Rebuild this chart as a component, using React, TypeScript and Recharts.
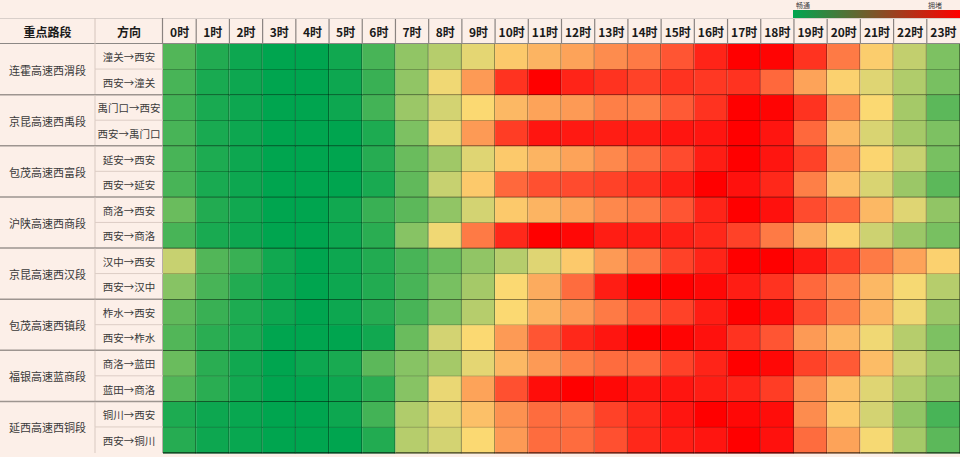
import React from 'react';
import { BarChart, Bar, XAxis, YAxis } from 'recharts';

// ---------- categories & labels ----------
const ROADS = [
  '连霍高速西渭段',
  '京昆高速西禹段',
  '包茂高速西富段',
  '沪陕高速西商段',
  '京昆高速西汉段',
  '包茂高速西镇段',
  '福银高速蓝商段',
  '延西高速西铜段',
];

const DIRECTIONS = [
  '潼关→西安', '西安→潼关',
  '禹门口→西安', '西安→禹门口',
  '延安→西安', '西安→延安',
  '商洛→西安', '西安→商洛',
  '汉中→西安', '西安→汉中',
  '柞水→西安', '西安→柞水',
  '商洛→蓝田', '蓝田→商洛',
  '铜川→西安', '西安→铜川',
];

const HOURS = [
  '0时', '1时', '2时', '3时', '4时', '5时', '6时', '7时', '8时', '9时', '10时', '11时',
  '12时', '13时', '14时', '15时', '16时', '17时', '18时', '19时', '20时', '21时', '22时', '23时',
];

const HEADER_ROAD = '重点路段';
const HEADER_DIR = '方向';
const LEGEND_LOW = '畅通';
const LEGEND_HIGH = '拥堵';

// ---------- congestion index (0 = 畅通, 100 = 拥堵), per direction, hours 0..23 ----------
const TONGGUAN_XIAN = [18, 8, 3, 0, 0, 4, 16, 31, 38, 46, 54, 59, 63, 68, 72, 80, 91, 100, 99, 87, 72, 53, 40, 27];
const XIAN_TONGGUAN = [16, 6, 3, 0, 0, 3, 13, 31, 48, 65, 87, 100, 91, 87, 84, 87, 86, 87, 76, 63, 52, 45, 37, 26];
const YUMENKOU_XIAN = [15, 6, 3, 0, 0, 3, 15, 33, 43, 50, 58, 63, 65, 71, 71, 79, 87, 100, 99, 87, 69, 50, 35, 20];
const XIAN_YUMENKOU = [16, 6, 3, 0, 0, 0, 7, 27, 47, 65, 85, 95, 94, 93, 93, 95, 95, 100, 95, 76, 58, 44, 35, 27];
const YANAN_XIAN = [16, 7, 3, 0, 0, 0, 9, 23, 34, 45, 54, 59, 63, 69, 75, 82, 93, 100, 95, 84, 65, 51, 41, 26];
const XIAN_YANAN = [16, 6, 3, 0, 0, 0, 6, 21, 41, 54, 76, 81, 82, 84, 87, 93, 100, 96, 90, 71, 56, 44, 33, 20];
const SHANGLUO_XIAN = [23, 8, 4, 0, 0, 4, 13, 20, 31, 43, 54, 59, 63, 69, 72, 80, 91, 100, 96, 82, 76, 58, 45, 31];
const XIAN_SHANGLUO = [16, 6, 3, 0, 0, 3, 10, 29, 48, 72, 90, 100, 98, 93, 93, 92, 90, 84, 72, 61, 52, 42, 33, 26];
const HANZHONG_XIAN = [41, 18, 13, 4, 0, 3, 8, 16, 23, 31, 38, 45, 54, 65, 72, 84, 91, 100, 100, 94, 84, 72, 63, 52];
const XIAN_HANZHONG = [29, 16, 8, 3, 0, 3, 8, 16, 26, 35, 50, 61, 75, 93, 100, 100, 98, 93, 87, 76, 69, 58, 49, 38];
const ZHASHUI_XIAN = [21, 13, 7, 3, 0, 3, 9, 16, 27, 38, 50, 59, 65, 72, 79, 84, 93, 100, 97, 82, 72, 59, 48, 33];
const XIAN_ZHASHUI = [18, 10, 6, 0, 0, 0, 4, 23, 43, 50, 65, 80, 90, 95, 100, 99, 96, 87, 80, 65, 58, 48, 38, 27];
const SHANGLUO_LANTIAN = [23, 10, 4, 0, 3, 6, 20, 29, 35, 46, 58, 65, 71, 75, 76, 84, 91, 100, 98, 84, 79, 57, 42, 33];
const LANTIAN_SHANGLUO = [18, 10, 4, 0, 0, 3, 10, 29, 47, 63, 81, 97, 100, 98, 95, 95, 93, 91, 85, 68, 56, 45, 37, 29];
const TONGCHUAN_XIAN = [7, 3, 2, 0, 0, 3, 15, 37, 46, 56, 67, 75, 75, 84, 90, 95, 100, 98, 97, 68, 54, 43, 31, 16];
const XIAN_TONGCHUAN = [9, 3, 2, 0, 0, 0, 8, 38, 43, 50, 65, 75, 75, 81, 90, 93, 95, 100, 96, 75, 63, 49, 35, 20];

const CONGESTION = [
  TONGGUAN_XIAN, XIAN_TONGGUAN,
  YUMENKOU_XIAN, XIAN_YUMENKOU,
  YANAN_XIAN, XIAN_YANAN,
  SHANGLUO_XIAN, XIAN_SHANGLUO,
  HANZHONG_XIAN, XIAN_HANZHONG,
  ZHASHUI_XIAN, XIAN_ZHASHUI,
  SHANGLUO_LANTIAN, LANTIAN_SHANGLUO,
  TONGCHUAN_XIAN, XIAN_TONGCHUAN,
];

// ---------- layout / style ----------
const W = 960;
const H = 457;
const MT = 18;
const HEADER_H = 26;
const MB = 4;
const LEFT_W = 163;
const ROAD_W = 95;
const BG = '#fcefe8';
const FONT = '"Noto Sans CJK SC", "Noto Sans", sans-serif';

const STOPS: [number, string][] = [
  [0, '#00a54f'],
  [10, '#2aad52'],
  [20, '#5cb85a'],
  [27, '#7dc162'],
  [35, '#a5c968'],
  [42, '#cdd271'],
  [48, '#f0d874'],
  [50, '#fbd972'],
  [58, '#fcb864'],
  [65, '#fd9a55'],
  [72, '#fe7a45'],
  [80, '#ff5533'],
  [87, '#ff3320'],
  [95, '#ff1510'],
  [100, '#ff0000'],
];

const hexToRgb = (h: string) => [
  parseInt(h.slice(1, 3), 16),
  parseInt(h.slice(3, 5), 16),
  parseInt(h.slice(5, 7), 16),
];

function colorFor(v: number): string {
  if (v <= STOPS[0][0]) return STOPS[0][1];
  for (let k = 1; k < STOPS.length; k++) {
    const [v1, c1] = STOPS[k];
    if (v <= v1) {
      const [v0, c0] = STOPS[k - 1];
      const t = (v - v0) / (v1 - v0);
      const a = hexToRgb(c0);
      const b = hexToRgb(c1);
      const m = a.map((x, j) => Math.round(x + (b[j] - x) * t));
      return `rgb(${m[0]},${m[1]},${m[2]})`;
    }
  }
  return STOPS[STOPS.length - 1][1];
}

const data = DIRECTIONS.map((dir, r) => {
  const row: any = { dir, road: ROADS[Math.floor(r / 2)], r };
  CONGESTION[r].forEach((v, i) => {
    row[`h${i}`] = 1;
    row[`c${i}`] = v;
  });
  return row;
});

const HOUR_TICKS = HOURS.map((_, i) => i + 0.5);
const ROW_H = (H - MT - HEADER_H - MB) / DIRECTIONS.length;
const COL_W = (W - LEFT_W) / HOURS.length;

const makeShape = (i: number) => (props: any) => {
  const { x, y, width, height, payload } = props;
  if (width == null || height == null) return null;
  const v = payload[`c${i}`];
  const groupEnd = payload.r % 2 === 1;
  return (
    <g>
      <rect x={x} y={y} width={width} height={height} fill={colorFor(v)} />
      <line x1={x + width - 0.5} x2={x + width - 0.5} y1={y} y2={y + height} stroke="rgba(0,0,0,0.38)" strokeWidth={1} />
      <line
        x1={x}
        x2={x + width}
        y1={y + height - 0.5}
        y2={y + height - 0.5}
        stroke={groupEnd ? 'rgba(0,0,0,0.72)' : 'rgba(0,0,0,0.42)'}
        strokeWidth={groupEnd ? 1.3 : 1}
      />
    </g>
  );
};

const HourTick = (props: any) => {
  const { x, payload } = props;
  const i = Math.round(payload.value - 0.5);
  return (
    <g>
      <text
        x={x}
        y={MT + HEADER_H / 2}
        textAnchor="middle"
        dominantBaseline="central"
        fontSize={12}
        fontWeight="bold"
        fill="#1a1a1a"
        fontFamily={FONT}
      >
        {HOURS[i]}
      </text>
      {i < HOURS.length - 1 && (
        <line x1={x + COL_W / 2} x2={x + COL_W / 2} y1={MT} y2={MT + HEADER_H} stroke="#8a8380" strokeWidth={1.2} />
      )}
    </g>
  );
};

const RowTick = (props: any) => {
  const { y, payload, index } = props;
  const top = y - ROW_H / 2;
  const first = index % 2 === 0;
  return (
    <g>
      {index === 0 && (
        <g>
          <line x1={0} x2={W} y1={MT + 0.5} y2={MT + 0.5} stroke="#d9cfca" strokeWidth={1} />
          <line x1={0} x2={W} y1={MT + HEADER_H - 0.5} y2={MT + HEADER_H - 0.5} stroke="#8c8885" strokeWidth={1.2} />
          <line x1={ROAD_W} x2={ROAD_W} y1={MT} y2={MT + HEADER_H} stroke="#d4c4bc" strokeWidth={1} />
          <line x1={LEFT_W - 0.5} x2={LEFT_W - 0.5} y1={MT} y2={MT + HEADER_H} stroke="#8a8380" strokeWidth={1.2} />
          <text x={ROAD_W / 2} y={MT + HEADER_H / 2} textAnchor="middle" dominantBaseline="central" fontSize={12} fontWeight="bold" fill="#1a1a1a" fontFamily={FONT}>
            {HEADER_ROAD}
          </text>
          <text x={(ROAD_W + LEFT_W) / 2} y={MT + HEADER_H / 2} textAnchor="middle" dominantBaseline="central" fontSize={12} fontWeight="bold" fill="#1a1a1a" fontFamily={FONT}>
            {HEADER_DIR}
          </text>
        </g>
      )}
      <text x={(ROAD_W + LEFT_W) / 2} y={y} textAnchor="middle" dominantBaseline="central" fontSize={10.5} fill="#3a3a3a" fontFamily={FONT}>
        {payload.value}
      </text>
      <line x1={ROAD_W} x2={ROAD_W} y1={top} y2={top + ROW_H} stroke="#d8c9c1" strokeWidth={1} />
      <line x1={LEFT_W - 0.5} x2={LEFT_W - 0.5} y1={top} y2={top + ROW_H} stroke="#b8aca6" strokeWidth={1} />
      {first ? (
        <g>
          <text x={ROAD_W / 2} y={top + ROW_H} textAnchor="middle" dominantBaseline="central" fontSize={11} fill="#3a3a3a" fontFamily={FONT}>
            {ROADS[Math.floor(index / 2)]}
          </text>
          <line x1={ROAD_W} x2={LEFT_W} y1={top + ROW_H - 0.5} y2={top + ROW_H - 0.5} stroke="#dccdc5" strokeWidth={1} />
        </g>
      ) : (
        index < DIRECTIONS.length - 1 && (
          <line x1={0} x2={LEFT_W} y1={top + ROW_H - 0.5} y2={top + ROW_H - 0.5} stroke="#9d9590" strokeWidth={1.5} />
        )
      )}
    </g>
  );
};

export default function App() {
  return (
    <div style={{ position: 'absolute', left: 0, top: 0, width: W, height: H, background: BG, overflow: 'hidden', fontFamily: FONT }}>
      <BarChart
        width={W}
        height={H}
        data={data}
        layout="vertical"
        margin={{ top: MT, right: 0, bottom: MB, left: 0 }}
        barCategoryGap={0}
        barGap={0}
      >
        <XAxis
          type="number"
          orientation="top"
          domain={[0, HOURS.length]}
          ticks={HOUR_TICKS}
          interval={0}
          height={HEADER_H}
          axisLine={false}
          tickLine={false}
          tick={(p: any) => <HourTick {...p} />}
        />
        <YAxis
          type="category"
          dataKey="dir"
          width={LEFT_W}
          interval={0}
          axisLine={false}
          tickLine={false}
          tick={(p: any) => <RowTick {...p} />}
        />
        {HOURS.map((_, i) => (
          <Bar key={i} dataKey={`h${i}`} stackId="s" isAnimationActive={false} shape={makeShape(i)} />
        ))}
      </BarChart>
      <div style={{ position: 'absolute', left: 793, top: 9.5, width: 167, height: 8.5, background: 'linear-gradient(to right, #00a650, #ff0000)' }} />
      <div style={{ position: 'absolute', left: 796, top: 0, fontSize: 7, lineHeight: '10px', color: '#444' }}>{LEGEND_LOW}</div>
      <div style={{ position: 'absolute', left: 928, top: 0, fontSize: 7, lineHeight: '10px', color: '#444' }}>{LEGEND_HIGH}</div>
    </div>
  );
}
